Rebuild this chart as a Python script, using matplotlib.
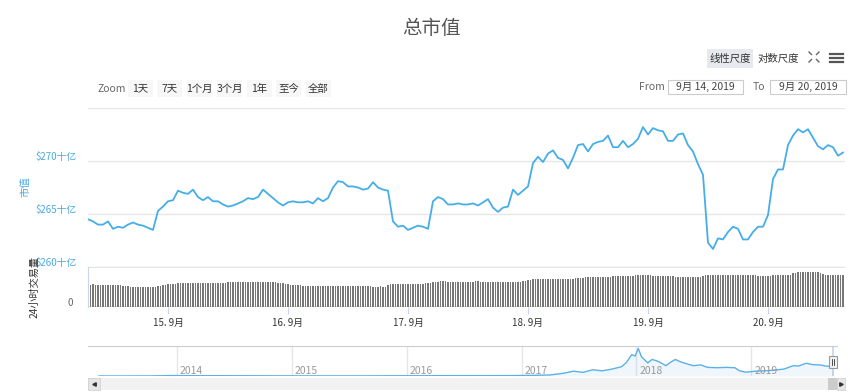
# total_mcap_chart.py
# 总市值 chart: price line, 24h volume columns, navigator strip with scrollbar

import numpy as np
import pandas as pd
import matplotlib
matplotlib.use("Agg")
import matplotlib.pyplot as plt
import matplotlib.transforms as mtransforms
from matplotlib.patches import Rectangle

plt.rcParams['font.family'] = ['Noto Sans CJK SC', 'DejaVu Sans']

W, H = 865, 392
BLUE = '#45aee8'
GRID = '#e6e6e6'

# hourly total market cap, $ billions, from 2019-09-14 08:00
PRICE_START = '2019-09-14 08:00'
price = [
    264.5, 264.3, 264.0, 264.0, 264.3, 263.6, 263.8, 263.7, 264.0, 264.2, 264.0, 263.9,
    263.7, 263.5, 265.3, 265.7, 266.2, 266.3, 267.2, 267.0, 266.9, 267.3, 266.6, 266.3,
    266.6, 266.2, 266.2, 265.9, 265.7, 265.8, 266.0, 266.2, 266.5, 266.4, 266.6, 267.3,
    266.9, 266.5, 266.1, 265.8, 266.1, 266.2, 266.1, 266.1, 266.2, 266.0, 266.5, 266.2,
    266.5, 267.5, 268.1, 268.0, 267.6, 267.6, 267.5, 267.3, 267.4, 268.0, 267.5, 267.3,
    267.2, 264.3, 263.8, 263.9, 263.5, 263.7, 263.9, 263.8, 263.6, 266.2, 266.6, 266.4,
    265.9, 265.9, 266.0, 265.9, 265.9, 266.0, 265.8, 266.1, 266.4, 265.6, 265.2, 265.6,
    265.7, 267.3, 266.8, 267.2, 267.6, 269.8, 270.4, 269.9, 270.7, 271.0, 270.3, 270.1,
    269.3, 270.3, 271.5, 271.6, 270.9, 271.6, 271.8, 271.9, 272.4, 271.3, 271.3, 271.9,
    271.3, 271.6, 272.1, 273.2, 272.5, 273.1, 272.9, 272.8, 271.9, 271.9, 272.5, 272.6,
    271.5, 270.9, 269.7, 268.7, 262.3, 261.7, 262.7, 262.6, 263.3, 263.8, 263.6, 262.6,
    262.6, 263.3, 263.8, 263.8, 264.9, 268.3, 269.2, 269.2, 271.5, 272.4, 273.0, 272.7,
    273.0, 272.2, 271.4, 271.1, 271.5, 271.3, 270.5, 270.8,
]

# 24h volume per 30 minutes, $ billions
volume = [
    11.6, 11.5, 11.6, 11.5, 11.5, 11.4, 11.4, 11.5, 11.4, 11.3, 11.3, 11.3, 11.2, 11.2, 11.0, 10.8, 10.6,
    10.4, 10.3, 10.3, 10.2, 10.2, 10.3, 10.2, 10.2, 10.3, 10.3, 10.4, 10.6,
    10.9, 11.2, 11.4, 11.6, 11.8, 11.9, 12.0, 12.1, 12.2,
    12.2, 12.3, 12.2, 12.2, 12.3, 12.2, 12.2, 12.1, 12.2, 12.3, 12.3, 12.2, 12.2, 12.3, 12.4, 12.4,
    12.5, 12.5, 12.6, 12.6, 12.7, 12.7, 12.8,
    12.8, 12.8, 12.9, 12.9, 12.9, 12.9, 12.8, 12.8, 13.0, 13.0, 12.9, 12.8, 12.8, 12.7, 12.6, 12.5,
    12.3, 12.1, 11.9,
    11.6, 11.5, 11.3, 11.2,
    11.1, 11.1, 11.0, 11.0, 11.0, 11.0, 11.0, 11.0, 11.0, 10.9, 10.9, 11.0, 11.0, 11.0, 10.9, 10.9,
    10.9, 11.0, 11.0, 11.0, 10.9, 10.9, 10.9, 11.0, 10.9, 10.9, 10.9, 11.0, 11.0,
    10.6, 10.5, 10.5, 10.5, 10.6, 10.4, 10.5, 11.2,
    11.6, 11.7, 11.8, 11.8, 11.8, 11.9, 11.9, 11.8, 11.8, 11.9, 11.9, 11.9, 12.0, 12.0, 12.1, 12.2,
    12.4, 12.7,
    13.0, 13.0, 13.1, 13.1, 13.1, 13.0, 13.0, 13.0, 13.0, 12.9, 12.9, 13.0, 13.0, 13.0, 13.0, 13.0,
    13.1, 13.1, 13.0, 13.0, 13.0, 12.9, 12.9, 12.9, 12.8, 12.8, 12.8, 12.9, 12.9, 13.0, 12.9,
    12.8, 12.8, 12.9, 13.0, 13.2, 13.4, 13.6, 13.9,
    14.1, 14.2, 14.3, 14.2, 14.2, 14.1, 14.2, 14.2, 14.3, 14.3,
    14.4, 14.5, 14.5, 14.5, 14.5, 14.6, 14.6, 14.7, 14.8, 15.0,
    15.1, 15.2, 15.3, 15.3, 15.3, 15.4, 15.4, 15.5, 15.5, 15.6, 15.6, 15.6, 15.7, 15.7, 15.8, 15.8,
    15.9, 15.9, 16.0, 16.0, 16.1, 16.2,
    16.3, 16.4, 16.4, 16.3, 16.3, 16.2, 16.1, 16.0,
    15.9, 15.8, 15.8, 15.8, 15.8, 15.7, 15.7, 15.6,
    15.5, 15.5, 15.5, 15.5, 15.5, 15.5, 15.5, 15.6, 15.5, 15.6, 15.9,
    16.3, 16.4, 16.4, 16.5, 16.5, 16.5, 16.5, 16.5, 16.6, 16.5, 16.5, 16.5, 16.5, 16.4, 16.4, 16.4,
    16.4, 16.3, 16.3, 16.3, 16.2, 16.1, 16.0,
    15.8, 15.8, 15.8, 15.9,
    16.3, 16.4, 16.5, 16.5, 16.5, 16.5, 16.5, 16.6,
    17.2, 17.6, 17.8, 17.8, 17.8, 17.9, 17.9, 17.9, 17.8, 17.8, 17.7, 17.5,
    17.0, 16.6, 16.3, 16.2, 16.2, 16.2, 16.2, 16.2, 16.2, 16.2,
]

# navigator: whole history, $ billions
nav_dates = [
    '2013-04-28', '2013-07-01', '2013-10-01', '2013-11-20', '2013-12-05', '2014-01-10',
    '2014-03-01', '2014-06-01', '2014-09-01', '2014-12-01', '2015-03-01', '2015-06-01',
    '2015-09-01', '2015-12-01', '2016-03-01', '2016-06-15', '2016-09-01', '2016-12-01',
    '2017-02-01', '2017-04-01', '2017-05-15', '2017-06-15', '2017-07-15', '2017-08-15',
    '2017-09-15', '2017-10-15', '2017-11-15', '2017-12-01', '2017-12-17', '2017-12-28',
    '2018-01-07', '2018-01-17', '2018-02-06', '2018-02-20', '2018-03-10', '2018-04-05',
    '2018-04-20', '2018-05-05', '2018-05-20', '2018-06-15', '2018-07-01', '2018-07-25',
    '2018-08-15', '2018-09-15', '2018-10-15', '2018-11-10', '2018-11-25', '2018-12-15',
    '2019-01-15', '2019-02-15', '2019-03-15', '2019-04-15', '2019-05-15', '2019-06-01',
    '2019-06-25', '2019-07-15', '2019-08-10', '2019-08-25', '2019-09-20',
]
nav_values = [
    1.5, 1.2, 2.0, 8, 14, 11,
    8, 8, 6, 4.5, 4, 3.5,
    3.8, 6.5, 7.5, 11, 10, 12,
    18, 30, 80, 140, 105, 180,
    150, 200, 270, 400, 620, 580,
    800, 560, 380, 480, 430, 300,
    400, 480, 415, 340, 300, 320,
    250, 240, 250, 240, 150, 110,
    140, 150, 170, 200, 300, 290,
    370, 330, 320, 290, 270,
]

day_ticks = pd.date_range('2019-09-15', '2019-09-20', freq='D')
day_labels = [f"{d.day}. 9月" for d in day_ticks]
price_ticks = [260, 265, 270, 275]
price_labels = ['$260十亿', '$265十亿', '$270十亿', '']
years = [2014, 2015, 2016, 2017, 2018, 2019]
zoom_buttons = ['1天', '7天', '1个月', '3个月', '1年', '至今', '全部']


def box(x0, y0, x1, y1):
    # pixel box (top-left origin) -> figure fraction
    return [x0 / W, 1 - y1 / H, (x1 - x0) / W, (y1 - y0) / H]


def shift_up(labels, px, fig):
    off = mtransforms.ScaledTranslation(0, px / 100, fig.dpi_scale_trans)
    for lab in labels:
        lab.set_transform(lab.get_transform() + off)


fig = plt.figure(figsize=(W / 100, H / 100), dpi=100)

t_price = pd.date_range(PRICE_START, periods=len(price), freq='h')
t_vol = pd.date_range(PRICE_START, periods=len(volume), freq='30min')
x0, x1 = pd.Timestamp('2019-09-14 08:00'), pd.Timestamp('2019-09-20 15:24')

# ---- main price panel
ax = fig.add_axes(box(88, 108, 845, 267))
ax.plot(t_price, price, color=BLUE, lw=1.3, solid_joinstyle='round')
ax.set_xlim(x0, x1)
ax.set_ylim(260, 275)
ax.set_yticks(price_ticks)
ax.set_yticklabels(price_labels)
ax.tick_params(axis='y', length=0, pad=8, labelsize=7, labelcolor='#4aa8e0')
ax.tick_params(axis='x', bottom=False, labelbottom=False)
ax.grid(axis='y', color=GRID, lw=1)
ax.set_axisbelow(True)
for s in ax.spines.values():
    s.set_visible(False)
shift_up(ax.get_yticklabels(), 5, fig)

# ---- volume panel
vax = fig.add_axes(box(88, 267, 845, 307))
vax.bar(t_vol, volume, width=0.7 / 48, color='#777777', lw=0)
vax.set_xlim(x0, x1)
vax.set_ylim(0, 20.5)
vax.set_yticks([0, 20.5])
vax.set_yticklabels(['0', ''])
vax.tick_params(axis='y', length=0, pad=11, labelsize=7, labelcolor='#666')
vax.grid(axis='y', color='#dddddd', lw=1.2)
vax.set_axisbelow(True)
vax.set_xticks(day_ticks)
vax.set_xticklabels(day_labels)
vax.tick_params(axis='x', length=5, color='#ccd6eb', pad=3, labelsize=7, labelcolor='#333')
for s in vax.spines.values():
    s.set_visible(False)
vax.spines['left'].set_visible(True)
vax.spines['left'].set_color('#ccd6eb')
shift_up(vax.get_yticklabels(), 5, fig)

fig.text(25 / W, 1 - 187 / H, '市值', rotation=90, fontsize=7.5, color='#4aa8e0',
         ha='center', va='center')
fig.text(34 / W, 1 - 287 / H, '24小时交易量', rotation=90, fontsize=7.3, color='#333',
         ha='center', va='center')

# ---- navigator
nav = fig.add_axes(box(88, 346, 837, 376))
nd = pd.to_datetime(nav_dates)
nav.fill_between(nd, nav_values, 0, color='#7cb5ec', alpha=0.12, lw=0)
nav.plot(nd, nav_values, color='#5ab0e8', lw=1)
nav.set_xlim(pd.Timestamp('2013-03-24'), pd.Timestamp('2019-10-01'))
nav.set_ylim(0, 870)
ydates = [pd.Timestamp(f'{y}-01-01') for y in years]
nav.set_xticks(ydates)
nav.set_xticklabels([])
nav.set_yticks([])
nav.tick_params(axis='x', length=0)
nav.grid(axis='x', color=GRID, lw=1)
nav.set_axisbelow(True)
for s in nav.spines.values():
    s.set_visible(False)
nav.spines['top'].set_visible(True)
nav.spines['top'].set_color('#cccccc')
trans = mtransforms.blended_transform_factory(nav.transData, nav.transAxes)
trans = trans + mtransforms.ScaledTranslation(3 / 100, 0, fig.dpi_scale_trans)
for y, d in zip(years, ydates):
    nav.text(d, 0.15, str(y), transform=trans, fontsize=7.5, color='#999',
             ha='left', va='center')
nav.axvspan(pd.Timestamp('2019-09-14'), pd.Timestamp('2019-09-20'), color='#6685c2', alpha=0.3, lw=0)

# ---- ui overlay: buttons, inputs, scrollbar
ui = fig.add_axes([0, 0, 1, 1], zorder=5)
ui.set_xlim(0, W)
ui.set_ylim(H, 0)
ui.axis('off')

fig.text(431 / W, 1 - 29 / H, '总市值', fontsize=14, color='#555', ha='center', va='center')

ui.text(97, 88.5, 'Zoom', fontsize=7.5, color='#666', ha='left', va='center')
bx = [128, 157, 187, 217, 247, 276, 306]
for lab, bx0 in zip(zoom_buttons, bx):
    ui.add_patch(Rectangle((bx0, 80), 25, 17, facecolor='#f7f7f7', edgecolor='none'))
    ui.text(bx0 + 12.5, 88.5, lab, fontsize=7.5, color='#333', ha='center', va='center')

ui.add_patch(Rectangle((707, 49), 46, 19, facecolor='#e6eaef', edgecolor='none'))
ui.text(730, 58.5, '线性尺度', fontsize=7.5, color='#333', ha='center', va='center')
ui.text(778, 58.5, '对数尺度', fontsize=7.5, color='#333', ha='center', va='center')
# fullscreen icon
for cx, cy, dx, dy in [(809, 52, 1, 1), (819, 52, -1, 1), (809, 62, 1, -1), (819, 62, -1, -1)]:
    ui.plot([cx, cx + 2.5 * dx], [cy, cy + 2.5 * dy], color='#666', lw=1)
for hy in (53.5, 57.5, 61.5):
    ui.plot([829.5, 842.5], [hy, hy], color='#555', lw=1.6)

ui.text(652, 87, 'From', fontsize=7.5, color='#666', ha='center', va='center')
ui.add_patch(Rectangle((668, 80), 75, 14, facecolor='white', edgecolor='#cccccc', lw=0.8))
ui.text(705.5, 87, '9月 14, 2019', fontsize=7.5, color='#444', ha='center', va='center')
ui.text(759, 87, 'To', fontsize=7.5, color='#666', ha='center', va='center')
ui.add_patch(Rectangle((770, 80), 76, 14, facecolor='white', edgecolor='#cccccc', lw=0.8))
ui.text(808, 87, '9月 20, 2019', fontsize=7.5, color='#444', ha='center', va='center')

# navigator handle
ui.add_patch(Rectangle((828.5, 356), 8.5, 12, facecolor='#f2f2f2', edgecolor='#999', lw=0.8))
for hx in (831.5, 834):
    ui.plot([hx, hx], [359, 365], color='#333', lw=0.6)

# scrollbar
ui.add_patch(Rectangle((88, 378), 757, 12, facecolor='#f2f2f2', edgecolor='none'))
ui.add_patch(Rectangle((88, 378), 12, 12, facecolor='#e6e6e6', edgecolor='#cccccc', lw=0.5))
ui.add_patch(Rectangle((828, 378), 9, 12, facecolor='#cccccc', edgecolor='none'))
ui.add_patch(Rectangle((837, 378), 8, 12, facecolor='#e6e6e6', edgecolor='#cccccc', lw=0.5))
ui.plot([94], [384], marker='<', markersize=2.5, color='#333')
ui.plot([841], [384], marker='>', markersize=2.5, color='#333')

fig.savefig('out.png', dpi=100, facecolor='white')
